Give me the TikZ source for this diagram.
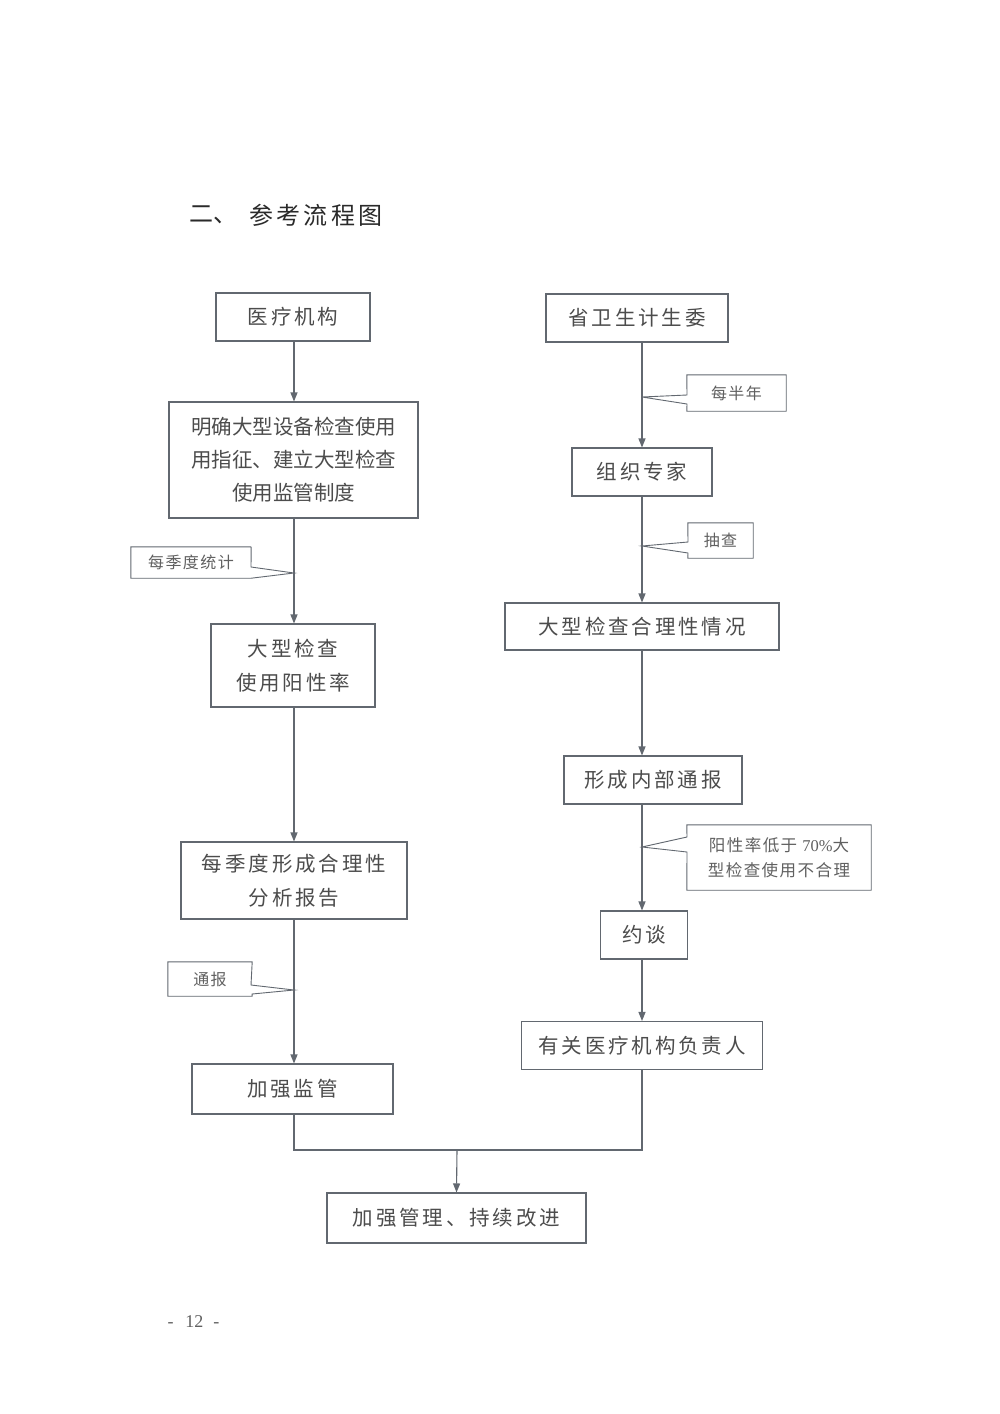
\documentclass[tikz,border=0pt]{standalone}
\usepackage{fontspec}
\usetikzlibrary{arrows.meta,calc}
\newfontfamily\cjk{Noto Sans CJK SC}
\newfontfamily\cjkls[LetterSpace=14]{Noto Sans CJK SC}
\newfontfamily\cjkms[LetterSpace=9]{Noto Sans CJK SC}
\setmainfont{Liberation Serif}
\definecolor{linec}{HTML}{626870}
\definecolor{txtc}{HTML}{4C4C4C}
\definecolor{ctxt}{HTML}{606060}
\definecolor{ttl}{HTML}{2A2A2A}
\begin{document}
\begin{tikzpicture}[x=1pt,y=-1pt,
  box/.style={draw=linec, line width=1.1pt, rectangle, inner sep=0pt, align=center, text=txtc,
    font=\cjkls\fontsize{20.5}{34}\selectfont},
  tightbox/.style={box, font=\cjk\fontsize{20.5}{33}\selectfont},
  ctext/.style={inner sep=0pt, align=center, text=ctxt, font=\cjkms\fontsize{16}{25}\selectfont},
  cline/.style={draw=linec, line width=0.9pt},
  ln/.style={draw=linec, line width=1.1pt},
  arr/.style={ln, -{Triangle[length=9pt,width=7pt]}}]
\useasboundingbox (0,0) rectangle (1000,1414);
\fill[white] (0,0) rectangle (1000,1414);

% title
\node[anchor=west, inner sep=0pt, text=ttl, font=\cjk\fontsize{24}{24}\selectfont] (t1) at (189,215) {二、};
\node[anchor=west, inner sep=0pt, text=ttl, font=\cjkls\fontsize{24}{24}\selectfont] (t2) at (249,215) {参考流程图};

% column references
\coordinate (lc) at (294,0);
\coordinate (rc) at (642,0);

% left column
\node[box, minimum width=154, minimum height=48] (b1) at (293,317) {医疗机构};
\node[tightbox, minimum width=249, minimum height=116] (b2) at (293.5,460) {明确大型设备检查使用\\用指征、建立大型检查\\使用监管制度};
\node[box, minimum width=164, minimum height=83] (b3) at (293,665.5) {大型检查\\使用阳性率};
\node[box, minimum width=226, minimum height=77] (b4) at (294,880.5) {每季度形成合理性\\分析报告};
\node[box, minimum width=201, minimum height=50] (b5) at (292.5,1089) {加强监管};

% right column
\node[box, minimum width=182, minimum height=48] (r1) at (637,318) {省卫生计生委};
\node[box, minimum width=140, minimum height=48] (r2) at (642,472) {组织专家};
\node[box, minimum width=274, minimum height=47] (r3) at (642,626.5) {大型检查合理性情况};
\node[box, minimum width=178, minimum height=48] (r4) at (653,780) {形成内部通报};
\node[box, minimum width=87, minimum height=48] (r5) at (644,935) {约谈};
\node[box, minimum width=241, minimum height=48] (r6) at (642,1045.5) {有关医疗机构负责人};

% final
\node[box, minimum width=259, minimum height=50] (f) at (456.5,1218) {加强管理、持续改进};

% arrows
\draw[arr] (b1.south -| lc) -- (b2.north -| lc);
\draw[arr] (b2.south -| lc) -- (b3.north -| lc);
\draw[arr] (b3.south -| lc) -- (b4.north -| lc);
\draw[arr] (b4.south -| lc) -- (b5.north -| lc);
\draw[arr] (r1.south -| rc) -- (r2.north -| rc);
\draw[arr] (r2.south -| rc) -- (r3.north -| rc);
\draw[arr] (r3.south -| rc) -- (r4.north -| rc);
\draw[arr] (r4.south -| rc) -- (r5.north -| rc);
\draw[arr] (r5.south -| rc) -- (r6.north -| rc);
\coordinate (jn) at (457,1150);
\draw[ln] (b5.south -| lc) |- (jn) -| (r6.south -| rc);
\draw[arr] (jn) -- (f.north);

% callouts (left side, pointing right)
\node[ctext, minimum width=120, minimum height=31] (c1) at (191,562.5) {每季度统计};
\coordinate (k1) at (294,573);
\draw[cline] (c1.north east) -- (c1.north west) -- (c1.south west) -- (c1.south east) -- (k1) -- (251,567) -- (c1.north east);
\node[ctext, minimum width=84, minimum height=34] (c2) at (210,979) {通报};
\coordinate (k2) at (294,990);
\draw[cline] (251,985) -- (c2.north east) -- (c2.north west) -- (c2.south west) -- (c2.south east) -- (252,994) -- (k2) -- cycle;

% callouts (right side, pointing left)
\node[ctext, minimum width=99, minimum height=36] (c3) at (736.5,393) {每半年};
\coordinate (k3) at (642,397);
\draw[cline] (687,395) -- (c3.north west) -- (c3.north east) -- (c3.south east) -- (c3.south west) -- (687,404) -- (k3) -- cycle;
\node[ctext, minimum width=65, minimum height=35] (c4) at (720.5,540.5) {抽查};
\coordinate (k4) at (642,546);
\draw[cline] (688,542) -- (c4.north west) -- (c4.north east) -- (c4.south east) -- (c4.south west) -- (688,553) -- (k4) -- cycle;
\node[ctext, minimum width=184, minimum height=65, font=\cjkms\fontsize{16.5}{25}\selectfont] (c5) at (779,857.5) {阳性率低于 {\fontspec{Liberation Serif}70\%}大\\型检查使用不合理};
\coordinate (k5) at (642,847);
\draw[cline] (687,837) -- (c5.north west) -- (c5.north east) -- (c5.south east) -- (c5.south west) -- (687,852) -- (k5) -- cycle;

% page number
\node[inner sep=0pt, text=ctxt, font=\fontsize{18}{18}\selectfont] (pg) at (193.5,1322) {-\hspace{12pt}12\hspace{10pt}-};
\end{tikzpicture}
\end{document}
